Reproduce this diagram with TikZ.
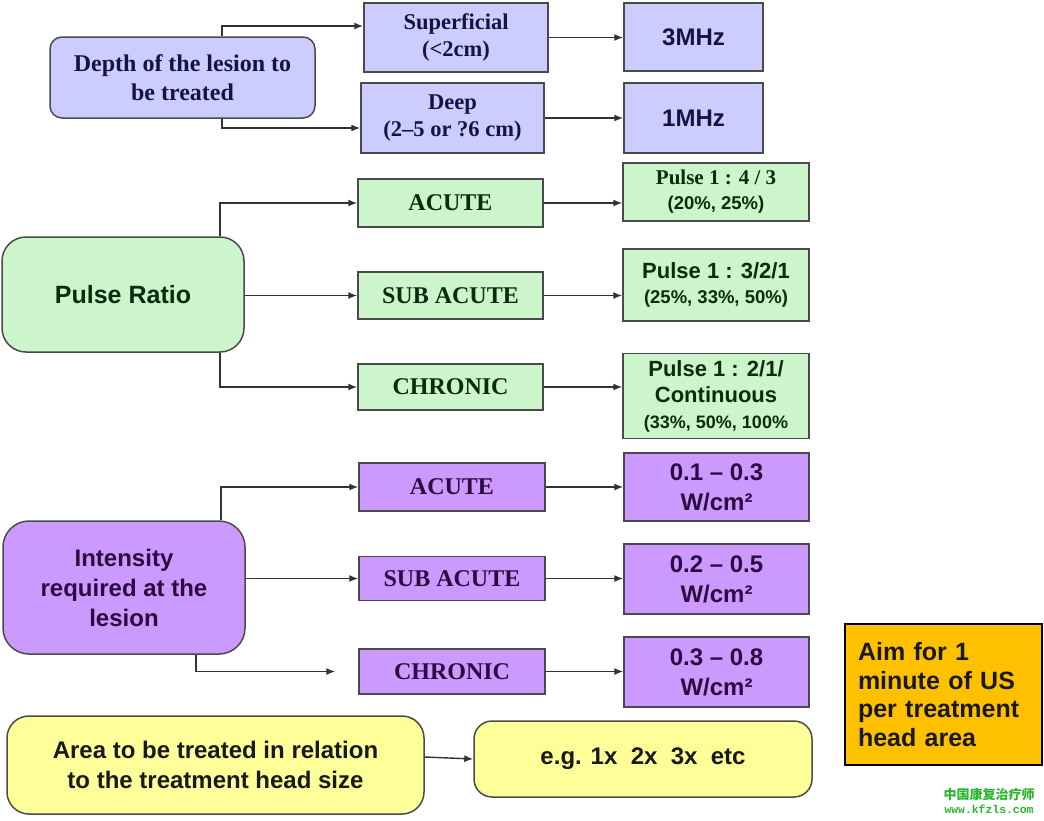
\documentclass[tikz,border=0pt]{standalone}
\usepackage{fontspec}
\setmainfont{Liberation Serif}
\setsansfont{Liberation Sans}
\setmonofont{Liberation Mono}
\newfontfamily\cjkfont{Noto Sans CJK SC}
\usetikzlibrary{positioning}
\usetikzlibrary{arrows.meta}
\definecolor{lavender}{HTML}{CCCCFF}
\definecolor{mint}{HTML}{CCF5CC}
\definecolor{lilac}{HTML}{CC99FF}
\definecolor{lemon}{HTML}{FFFF99}
\definecolor{amber}{HTML}{FFC000}
\definecolor{edge}{HTML}{4A4A4A}
\definecolor{navytext}{HTML}{14143C}
\definecolor{greentext}{HTML}{0E2A0E}
\definecolor{purpletext}{HTML}{2A0C40}
\definecolor{markgreen}{HTML}{2DB52D}

\begin{document}
\begin{tikzpicture}[x=1pt,y=-1pt,line width=1.4pt,draw=black!80,>={Latex[length=9pt,width=7pt]},
  box/.style={draw=edge,line width=1.5pt,align=center,inner sep=0pt},
  topbox/.style={box,fill=lavender,text=navytext},
  pulsebox/.style={box,fill=mint,text=greentext},
  intbox/.style={box,fill=lilac,text=purpletext},
  areabox/.style={box,fill=lemon,text=black!90},
  serifbig/.style={font=\fontsize{24}{29}\selectfont\bfseries},
  sansbig/.style={font=\sffamily\fontsize{24}{30}\selectfont\bfseries}]
  \path[use as bounding box,fill=white] (0,0) rectangle (1044,820);
  % depth of the lesion
  \node[topbox,serifbig,rounded corners=12pt,minimum width=265,minimum height=81](depth) at (182.5,77.5) {Depth of the lesion to\\be treated};
  \node[topbox,font=\fontsize{22.5}{27}\selectfont\bfseries,minimum width=184,minimum height=69](sup) at (456,37.5) {Superficial\\(<2cm)};
  \node[topbox,font=\fontsize{22.5}{27}\selectfont\bfseries,minimum width=183,minimum height=70](deep) at (452.5,118) {Deep\\(2–5 or ?6 cm)};
  \node[topbox,sansbig,minimum width=139,minimum height=68](mhzthree) at (693.5,37) {3MHz};
  \node[topbox,sansbig,minimum width=139,minimum height=70](mhzone) at (693.5,118) {1MHz};
  \draw[->] ([xshift=39.5pt]depth.north) |- ([yshift=11.5pt]sup.west);
  \draw[->] ([xshift=39.5pt]depth.south) |- ([yshift=-10pt]deep.west);
  \draw[->] (sup.east) -- (sup.east -| mhzthree.west);
  \draw[->] (deep.east) -- (deep.east -| mhzone.west);
  % pulse ratio
  \node[pulsebox,font=\sffamily\fontsize{25}{30}\selectfont\bfseries,rounded corners=24pt,minimum width=242,minimum height=115](pulse) at (123,294.5) {Pulse Ratio};
  \node[pulsebox,serifbig,minimum width=185,minimum height=48](gacute) at (450.5,203) {ACUTE};
  \node[pulsebox,serifbig,minimum width=185,minimum height=47](gsub) at (450.5,295.5) {SUB ACUTE};
  \node[pulsebox,serifbig,minimum width=185,minimum height=46](gchron) at (450.5,387) {CHRONIC};
  \node[pulsebox,font=\fontsize{21}{25}\selectfont\bfseries,minimum width=186,minimum height=58](pone) at (716,192)
    {Pulse 1 : 4 / 3\\\sffamily\fontsize{18.5}{25}\selectfont (20\%, 25\%)};
  \node[pulsebox,font=\sffamily\fontsize{22}{25}\selectfont\bfseries,minimum width=186,minimum height=72](ptwo) at (716,285)
    {Pulse 1 : 3/2/1\\\fontsize{18.5}{25}\selectfont (25\%, 33\%, 50\%)};
  \node[pulsebox,font=\sffamily\fontsize{22}{26}\selectfont\bfseries,minimum width=186,minimum height=85](pthree) at (716,396)
    {Pulse 1 : 2/1/\\Continuous\\\fontsize{18}{26}\selectfont (33\%, 50\%, 100\%};
  \draw[->] ([xshift=97pt]pulse.north) |- (gacute.west);
  \draw[->] (pulse.east |- gsub.west) -- (gsub.west);
  \draw[->] ([xshift=97pt]pulse.south) |- (gchron.west);
  \draw[->] (gacute.east) -- (gacute.east -| pone.west);
  \draw[->] (gsub.east) -- (gsub.east -| ptwo.west);
  \draw[->] (gchron.east) -- (gchron.east -| pthree.west);
  % intensity
  \node[intbox,sansbig,rounded corners=26pt,minimum width=242,minimum height=133](inten) at (124,587.5) {Intensity\\required at the\\lesion};
  \node[intbox,serifbig,minimum width=186,minimum height=48](pacute) at (452,487) {ACUTE};
  \node[intbox,serifbig,minimum width=186,minimum height=44](psub) at (452,578.5) {SUB ACUTE};
  \node[intbox,serifbig,minimum width=186,minimum height=45](pchron) at (452,671.5) {CHRONIC};
  \node[intbox,sansbig,minimum width=185,minimum height=68](wone) at (716.5,487) {0.1 – 0.3\\W/cm²};
  \node[intbox,sansbig,minimum width=185,minimum height=70](wtwo) at (716.5,579) {0.2 – 0.5\\W/cm²};
  \node[intbox,sansbig,minimum width=185,minimum height=70](wthree) at (716.5,672) {0.3 – 0.8\\W/cm²};
  \draw[->] ([xshift=97pt]inten.north) |- (pacute.west);
  \draw[->] (inten.east |- psub.west) -- (psub.west);
  \draw[->] ([xshift=72pt]inten.south) |- ([xshift=-23pt]pchron.west);
  \draw[->] (pacute.east) -- (pacute.east -| wone.west);
  \draw[->] (psub.east) -- (psub.east -| wtwo.west);
  \draw[->] (pchron.east) -- (pchron.east -| wthree.west);
  % treatment area
  \node[areabox,sansbig,rounded corners=22pt,minimum width=417,minimum height=98](area) at (215.5,765) {Area to be treated in relation\\to the treatment head size};
  \node[areabox,sansbig,rounded corners=18pt,minimum width=338,minimum height=76](times) at (643,759) {e.g. 1x\ \ 2x\ \ 3x\ \ etc};
  \draw[->] ([yshift=8pt]area.east) -- (times.west);
  \node[box,draw=black,line width=2.5pt,fill=amber,text=black!90,align=left,text width=171pt,
    font=\sffamily\fontsize{25}{28.5}\selectfont\bfseries,minimum width=197,minimum height=141](aim) at (943.5,694.5)
    {Aim for 1\\minute of US\\per treatment\\head area};
  % mark
  \node[text=markgreen,font=\cjkfont\fontsize{13}{15}\selectfont\bfseries,inner sep=0pt](markcn) at (989,794) {中国康复治疗师};
  \node[below=3pt of markcn,text=markgreen,font=\ttfamily\fontsize{11.4}{13}\selectfont\bfseries,inner sep=0pt](markurl) {www.kfzls.com};
\end{tikzpicture}
\end{document}
